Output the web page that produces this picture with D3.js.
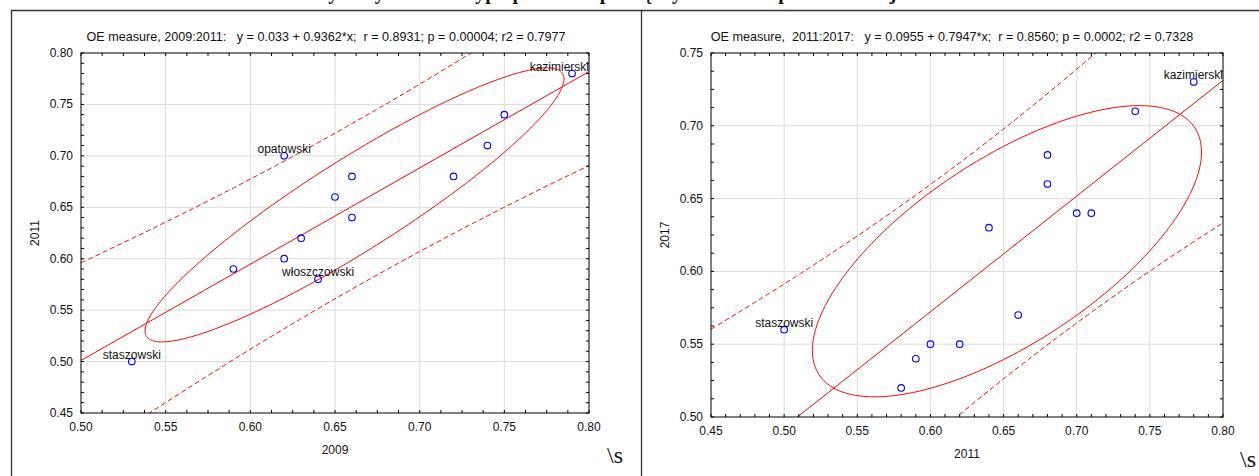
<!DOCTYPE html>
<html>
<head>
<meta charset="utf-8">
<script src="https://d3js.org/d3.v7.min.js"></script>
<style>
  body { margin: 0; background: #fff; }
  svg { display: block; }
  text { font-family: "Liberation Sans", Arial, sans-serif; fill: #111; }
</style>
</head>
<body>
<svg width="1259" height="476"></svg>
<script>
// --- data ---
const x2009 = [0.53, 0.59, 0.62, 0.62, 0.63, 0.64, 0.65, 0.66, 0.66, 0.72, 0.74, 0.75, 0.79];
const y2011 = [0.50, 0.59, 0.60, 0.70, 0.62, 0.58, 0.66, 0.68, 0.64, 0.68, 0.71, 0.74, 0.78];
const names1 = ["staszowski", "", "", "opatowski", "", "włoszczowski", "", "", "", "", "", "", "kazimierski"];

const x2011 = [0.50, 0.58, 0.59, 0.60, 0.62, 0.64, 0.66, 0.68, 0.68, 0.70, 0.71, 0.74, 0.78];
const y2017 = [0.56, 0.52, 0.54, 0.55, 0.55, 0.63, 0.57, 0.68, 0.66, 0.64, 0.64, 0.71, 0.73];
const names2 = ["staszowski", "", "", "", "", "", "", "", "", "", "", "", "kazimierski"];

// ellipse as drawn in the picture: half width (x units), half height (y units), tilt correlation
const ellipse1 = [0.1237, 0.1332, 0.920];
const ellipse2 = [0.1330, 0.1000, 0.681];

const titles = [
  "OE measure, 2009:2011:   y = 0.033 + 0.9362*x;  r = 0.8931; p = 0.00004; r2 = 0.7977",
  "OE measure,  2011:2017:   y = 0.0955 + 0.7947*x;  r = 0.8560; p = 0.0002; r2 = 0.7328"
];
const xTitles = ["2009", "2011"];
const yTitles = ["2011", "2017"];
const xTicks1 = [0.50, 0.55, 0.60, 0.65, 0.70, 0.75, 0.80];
const yTicks1 = [0.45, 0.50, 0.55, 0.60, 0.65, 0.70, 0.75, 0.80];
const xTicks2 = [0.45, 0.50, 0.55, 0.60, 0.65, 0.70, 0.75, 0.80];
const yTicks2 = [0.50, 0.55, 0.60, 0.65, 0.70, 0.75];

const T_975_11 = 2.201;   // t quantile, df = n - 2

const svg = d3.select("svg");

// page heading, mostly cut off at the top edge
svg.append("text")
  .attr("x", 645).attr("y", -1)
  .attr("text-anchor", "middle")
  .style("font-family", "'Liberation Serif', 'Times New Roman', serif")
  .style("font-weight", "bold").style("font-size", "20px")
  .text("Wykresy rozrzutu typu powiatów pomiędzy latami dla powiatów województwa");

// panel frames
svg.append("line").attr("x1", 11).attr("x2", 1259).attr("y1", 10.5).attr("y2", 10.5)
  .attr("stroke", "#333").attr("stroke-width", 1.3);
svg.append("line").attr("x1", 11.5).attr("x2", 11.5).attr("y1", 10).attr("y2", 476)
  .attr("stroke", "#333").attr("stroke-width", 1.3);
svg.append("line").attr("x1", 641.5).attr("x2", 641.5).attr("y1", 10).attr("y2", 476)
  .attr("stroke", "#333").attr("stroke-width", 1.3);

function stats(xs, ys) {
  const n = xs.length;
  const mx = d3.mean(xs), my = d3.mean(ys);
  const sxx = d3.sum(xs, x => (x - mx) ** 2);
  const syy = d3.sum(ys, y => (y - my) ** 2);
  const sxy = d3.sum(xs, (x, i) => (x - mx) * (ys[i] - my));
  const b = sxy / sxx, a = my - b * mx;
  const sres = Math.sqrt((syy - b * sxy) / (n - 2));
  return { n, mx, my, sxx, b, a, sres };
}

function drawPanel(id, p) {
  const g = svg.append("g");
  const x = d3.scaleLinear().domain(p.xDom).range([p.left, p.right]);
  const y = d3.scaleLinear().domain(p.yDom).range([p.bottom, p.top]);

  g.append("clipPath").attr("id", "clip" + id)
    .append("rect").attr("x", p.left).attr("y", p.top)
    .attr("width", p.right - p.left).attr("height", p.bottom - p.top);

  // grid
  g.selectAll(".gx").data(p.xTicks.slice(1, -1)).join("line")
    .attr("x1", d => x(d)).attr("x2", d => x(d)).attr("y1", p.top).attr("y2", p.bottom)
    .attr("stroke", "#dcdcdc");
  g.selectAll(".gy").data(p.yTicks.slice(1, -1)).join("line")
    .attr("y1", d => y(d)).attr("y2", d => y(d)).attr("x1", p.left).attr("x2", p.right)
    .attr("stroke", "#dcdcdc");

  const st = stats(p.xs, p.ys);
  const plot = g.append("g").attr("clip-path", `url(#clip${id})`);
  const red = "#ff0000";

  // regression line
  plot.append("line")
    .attr("x1", x(p.xDom[0])).attr("y1", y(st.a + st.b * p.xDom[0]))
    .attr("x2", x(p.xDom[1])).attr("y2", y(st.a + st.b * p.xDom[1]))
    .attr("stroke", red);

  // 95% prediction band
  const grid = d3.range(0, 201).map(i => p.xDom[0] + (p.xDom[1] - p.xDom[0]) * i / 200);
  [1, -1].forEach(sgn => {
    plot.append("path")
      .attr("d", d3.line()
        .x(d => x(d))
        .y(d => y(st.a + st.b * d + sgn * T_975_11 * st.sres *
          Math.sqrt(1 + 1 / st.n + (d - st.mx) ** 2 / st.sxx)))(grid))
      .attr("fill", "none").attr("stroke", red).attr("stroke-dasharray", "5,3");
  });

  // ellipse round the means
  const [hx, hy, rho] = p.ell;
  const c = Math.sqrt(1 - rho * rho);
  const ang = d3.range(0, 360).map(i => i * Math.PI / 180);
  plot.append("path")
    .attr("d", d3.line().curve(d3.curveLinearClosed)
      .x(t => x(st.mx + hx * Math.cos(t)))
      .y(t => y(st.my + hy * (rho * Math.cos(t) + c * Math.sin(t))))(ang))
    .attr("fill", "none").attr("stroke", red);

  // points
  g.selectAll(".pt").data(p.xs).join("circle")
    .attr("cx", d => x(d)).attr("cy", (d, i) => y(p.ys[i])).attr("r", 3.3)
    .attr("fill", "none").attr("stroke", "#0000ff").attr("stroke-width", 1.1);

  // point labels
  p.names.forEach((nm, i) => {
    if (!nm) return;
    const t = g.append("text").style("font-size", "12px")
      .attr("y", y(p.ys[i]) - 3).text(nm);
    const w = t.node().getComputedTextLength();
    let lx = x(p.xs[i]) - w / 2;
    if (lx + w > p.right) lx = p.right - w;
    t.attr("x", lx);
  });

  // frame and ticks (inside)
  g.append("rect").attr("x", p.left).attr("y", p.top)
    .attr("width", p.right - p.left).attr("height", p.bottom - p.top)
    .attr("fill", "none").attr("stroke", "#000");
  const minorX = d3.range(0, Math.round((p.xDom[1] - p.xDom[0]) / p.xMinor) + 1).map(i => p.xDom[0] + i * p.xMinor);
  const minorY = d3.range(0, Math.round((p.yDom[1] - p.yDom[0]) / p.yMinor) + 1).map(i => p.yDom[0] + i * p.yMinor);
  const tk = g.append("g").attr("stroke", "#000");
  minorX.forEach(v => {
    tk.append("line").attr("x1", x(v)).attr("x2", x(v)).attr("y1", p.bottom).attr("y2", p.bottom - 3);
    tk.append("line").attr("x1", x(v)).attr("x2", x(v)).attr("y1", p.top).attr("y2", p.top + 3);
  });
  minorY.forEach(v => {
    tk.append("line").attr("y1", y(v)).attr("y2", y(v)).attr("x1", p.left).attr("x2", p.left + 3);
    tk.append("line").attr("y1", y(v)).attr("y2", y(v)).attr("x1", p.right).attr("x2", p.right - 3);
  });

  // tick labels
  g.selectAll(".xl").data(p.xTicks).join("text")
    .attr("x", d => x(d)).attr("y", p.bottom + 18).attr("text-anchor", "middle")
    .style("font-size", "12px").text(d => d.toFixed(2));
  g.selectAll(".yl").data(p.yTicks).join("text")
    .attr("x", p.left - 8).attr("y", d => y(d) + 4).attr("text-anchor", "end")
    .style("font-size", "12px").text(d => d.toFixed(2));

  // titles
  g.append("text").attr("x", p.panelMid).attr("y", 41).attr("text-anchor", "middle")
    .style("font-size", "12.6px").style("white-space", "pre").text(p.title);
  g.append("text").attr("x", (p.left + p.right) / 2).attr("y", p.bottom + 41)
    .attr("text-anchor", "middle").style("font-size", "12px").text(p.xTitle);
  g.append("text").attr("transform", `translate(${p.panelLeft + 28},${(p.top + p.bottom) / 2}) rotate(-90)`)
    .attr("text-anchor", "middle").style("font-size", "12px").text(p.yTitle);
  g.append("text").attr("x", p.sX).attr("y", p.bottom + 50)
    .style("font-family", "'Liberation Serif', 'Times New Roman', serif")
    .style("font-size", "24px").text("\\s");
}

drawPanel(1, {
  xs: x2009, ys: y2011, names: names1, ell: ellipse1, title: titles[0], xTitle: xTitles[0], yTitle: yTitles[0],
  xDom: [0.50, 0.80], yDom: [0.45, 0.80], xTicks: xTicks1, yTicks: yTicks1, xMinor: 0.0125, yMinor: 0.01,
  left: 81, right: 589, top: 53, bottom: 413, panelLeft: 11, panelMid: 326, sX: 607
});
drawPanel(2, {
  xs: x2011, ys: y2017, names: names2, ell: ellipse2, title: titles[1], xTitle: xTitles[1], yTitle: yTitles[1],
  xDom: [0.45, 0.80], yDom: [0.50, 0.75], xTicks: xTicks2, yTicks: yTicks2, xMinor: 0.01, yMinor: 0.0125,
  left: 711, right: 1223, top: 53, bottom: 417, panelLeft: 641, panelMid: 952, sX: 1240
});
</script>
</body>
</html>
